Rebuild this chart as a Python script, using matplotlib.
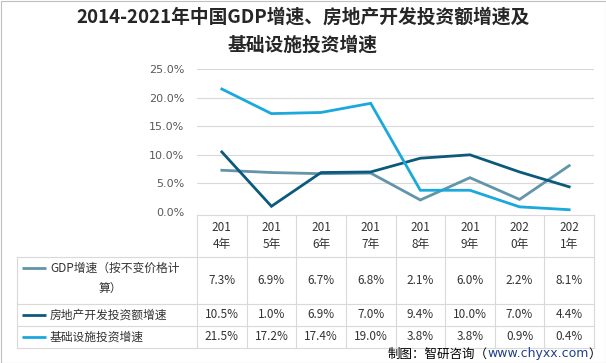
import matplotlib.pyplot as plt
import numpy as np

plt.rcParams['font.family'] = ['Noto Sans CJK SC', 'DejaVu Sans']

years = ['2014年', '2015年', '2016年', '2017年', '2018年', '2019年', '2020年', '2021年']
series_names = ['GDP增速（按不变价格计算）', '房地产开发投资额增速', '基础设施投资增速']
gdp = [7.3, 6.9, 6.7, 6.8, 2.1, 6.0, 2.2, 8.1]
real_estate = [10.5, 1.0, 6.9, 7.0, 9.4, 10.0, 7.0, 4.4]
infra = [21.5, 17.2, 17.4, 19.0, 3.8, 3.8, 0.9, 0.4]
colors = ['#6294AA', '#0B5A7C', '#1AA8DD']

W, H = 606, 363
fig = plt.figure(figsize=(W / 100, H / 100), dpi=100)

# figure frame
fig.patches.append(plt.Rectangle((0.5 / W, 0.5 / H), 1 - 1 / W, 1 - 1 / H, transform=fig.transFigure,
                                 fill=False, edgecolor='#BFBFBF', lw=0.8))

# plot area in pixel coords
x0, x1 = 197, 594
y_top, y_bot = 69, 212
colw = (x1 - x0) / len(years)
ax = fig.add_axes([x0 / W, 1 - y_bot / H, (x1 - x0) / W, (y_bot - y_top) / H])
x = np.arange(len(years))
for vals, c in zip([gdp, real_estate, infra], colors):
    ax.plot(x, vals, color=c, lw=2.0, solid_joinstyle='miter')
ax.set_xlim(-0.5, len(years) - 0.5)
ax.set_ylim(0, 25)
ax.set_yticks(np.arange(0, 26, 5))
ax.set_yticklabels([f'{v:.1f}%' for v in np.arange(0, 26, 5)], color='#595959', fontsize=8,
                   family=['DejaVu Sans'])
ax.yaxis.grid(True, color='#D9D9D9', lw=0.8)
ax.set_axisbelow(True)
ax.tick_params(axis='y', length=0, pad=9)
ax.set_xticks([])
for s in ax.spines.values():
    s.set_visible(False)

# data table drawn below the plot
tab = fig.add_axes([0, 0, 1, 1])
tab.set_xlim(0, W)
tab.set_ylim(H, 0)
tab.axis('off')
lc = '#D9D9D9'
left = 17
rows = [215, 257, 304, 326, 348]
tab.plot([x0, x1], [rows[0], rows[0]], color=lc, lw=0.8)
for r in rows[1:]:
    tab.plot([left, x1], [r, r], color=lc, lw=0.8)
for i in range(len(years) + 1):
    xx = x0 + i * colw
    tab.plot([xx, xx], [rows[0], rows[-1]], color=lc, lw=0.8)
tab.plot([left, left], [rows[1], rows[-1]], color=lc, lw=0.8)

tfs = 8.5
tc = '#333333'
for i, yr in enumerate(years):
    cx = x0 + (i + 0.5) * colw
    tab.text(cx, (rows[0] + rows[1]) / 2, yr[:3] + '\n' + yr[3:], ha='center', va='center',
             fontsize=tfs, color=tc, linespacing=1.35)

for k, (vals, c, lab) in enumerate(zip([gdp, real_estate, infra], colors, series_names)):
    cy = (rows[k + 1] + rows[k + 2]) / 2
    ly = rows[k + 1] + 11 if k == 0 else cy
    tab.plot([22, 46], [ly, ly], color=c, lw=2.0, solid_capstyle='butt')
    if k == 0:
        tab.text(50, ly, lab[:-2], ha='left', va='center', fontsize=tfs, color=tc)
        tab.text(110, ly + 20, lab[-2:], ha='center', va='center', fontsize=tfs, color=tc)
    else:
        tab.text(50, cy, lab, ha='left', va='center', fontsize=tfs, color=tc)
    for i, v in enumerate(vals):
        cx = x0 + (i + 0.5) * colw
        tab.text(cx, cy, f'{v:.1f}%', ha='center', va='center', fontsize=tfs, color=tc)

# title
fig.text(0.5, 1 - 17 / H, '2014-2021年中国GDP增速、房地产开发投资额增速及', ha='center', va='center',
         fontsize=13.5, fontweight='bold', color='#262626')
fig.text(0.5, 1 - 45 / H, '基础设施投资增速', ha='center', va='center',
         fontsize=13.5, fontweight='bold', color='#262626')

# source line, pieces chained left to right
fig.canvas.draw()
r = fig.canvas.get_renderer()
parts = [('制图：智研咨询（', '#000000', ['Noto Sans CJK SC']),
         ('www.chyxx.com', '#1F3E8C', ['DejaVu Sans']),
         ('）', '#000000', ['Noto Sans CJK SC'])]
texts = []
for s, c, fam in parts:
    texts.append(tab.text(0, 354, s, ha='left', va='center', fontsize=9, color=c, family=fam))
widths = [t.get_window_extent(r).width for t in texts]
xs = 601 - sum(widths)
for t, w in zip(texts, widths):
    t.set_x(xs)
    xs += w

fig.savefig('out.png', dpi=100)
